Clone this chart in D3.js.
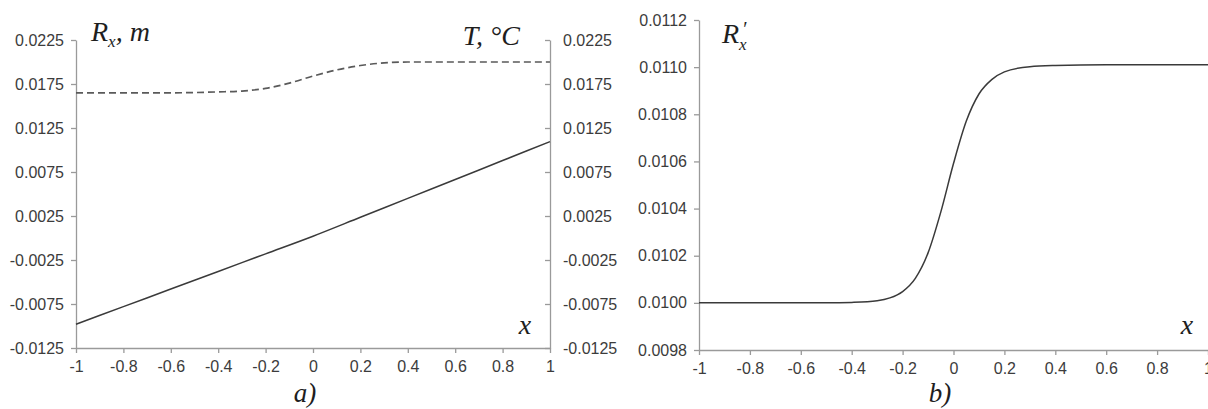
<!DOCTYPE html>
<html>
<head>
<meta charset="utf-8">
<script src="https://cdnjs.cloudflare.com/ajax/libs/d3/7.8.5/d3.min.js"></script>
<style>
  html, body { margin: 0; padding: 0; background: #fff; }
  .tick text { font-family: "Liberation Sans", Arial, sans-serif; font-size: 16px; fill: #3c3c3c; }
  .axis path, .axis line { stroke: #9a9a9a; stroke-width: 1.3; }
  .lbl { font-family: "Liberation Serif", "Times New Roman", serif; font-style: italic; fill: #1e1e1e; }
</style>
</head>
<body>
<div id="chart"></div>
<script>
  // panel a) data
  var xA = [-1, -0.8, -0.6, -0.4, -0.2, 0, 0.2, 0.4, 0.6, 0.8, 1];
  var rxA = [-0.0098, -0.0078, -0.0058, -0.0038, -0.0018, 0.0002, 0.00235, 0.0045, 0.00665, 0.0088, 0.01095];
  var xT = [-1, -0.8, -0.6, -0.4, -0.3, -0.2, -0.1, 0, 0.1, 0.2, 0.3, 0.4, 0.6, 0.8, 1];
  var tA = [0.0165, 0.0165, 0.0165, 0.0166, 0.0167, 0.0170, 0.0176, 0.0184, 0.0191, 0.0196, 0.0199, 0.0200, 0.0200, 0.0200, 0.0200];

  // panel b) data
  var xB = [-1, -0.8, -0.6, -0.5, -0.4, -0.3, -0.25, -0.2, -0.15, -0.1, -0.05, 0, 0.05, 0.1, 0.15, 0.2, 0.3, 0.4, 0.6, 0.8, 1];
  var rdB = [0.010000, 0.010000, 0.010000, 0.010000, 0.010002, 0.010009, 0.010021, 0.010048, 0.010104, 0.010212, 0.010385,
             0.010591, 0.010770, 0.010886, 0.010947, 0.010980, 0.011002, 0.011007, 0.011010, 0.011010, 0.011010];

  // tick labels
  var xTicks = [-1, -0.8, -0.6, -0.4, -0.2, 0, 0.2, 0.4, 0.6, 0.8, 1];
  var yTicksA = [-0.0125, -0.0075, -0.0025, 0.0025, 0.0075, 0.0125, 0.0175, 0.0225];
  var yTicksB = [0.0098, 0.0100, 0.0102, 0.0104, 0.0106, 0.0108, 0.0110, 0.0112];

  var W = 1208, H = 409;
  var svg = d3.select('#chart').append('svg').attr('width', W).attr('height', H);

  var fmtX = function (d) { return String(+d.toFixed(1)); };
  var fmtY = function (d) { return d.toFixed(4); };

  function drawAxes(x, y, yTicks, withRight) {
    var g = svg.append('g');
    g.append('g').attr('class', 'axis')
      .attr('transform', 'translate(0,' + y.range()[0] + ')')
      .call(d3.axisBottom(x).tickValues(xTicks).tickFormat(fmtX).tickSize(5).tickSizeOuter(0).tickPadding(8));
    g.append('g').attr('class', 'axis')
      .attr('transform', 'translate(' + x.range()[0] + ',0)')
      .call(d3.axisLeft(y).tickValues(yTicks).tickFormat(fmtY).tickSize(5).tickSizeOuter(0).tickPadding(7));
    if (withRight) {
      var ra = g.append('g').attr('class', 'axis')
        .attr('transform', 'translate(' + x.range()[1] + ',0)')
        .call(d3.axisLeft(y).tickValues(yTicks).tickFormat(fmtY).tickSize(5).tickSizeOuter(0));
      ra.selectAll('.tick text').attr('text-anchor', 'start').attr('x', 13);
    }
  }

  // panel a
  var xAs = d3.scaleLinear().domain([-1, 1]).range([76, 550]);
  var yA = d3.scaleLinear().domain([-0.0125, 0.0225]).range([348, 40]);
  drawAxes(xAs, yA, yTicksA, true);

  var lineA = d3.line().x(function (d) { return xAs(d[0]); }).y(function (d) { return yA(d[1]); }).curve(d3.curveMonotoneX);
  svg.append('path').datum(d3.zip(xA, rxA)).attr('d', lineA)
    .attr('fill', 'none').attr('stroke', '#3a3a3a').attr('stroke-width', 1.5);
  svg.append('path').datum(d3.zip(xT, tA)).attr('d', lineA)
    .attr('fill', 'none').attr('stroke', '#5a5a5a').attr('stroke-width', 1.7).attr('stroke-dasharray', '7,4');

  // panel b
  var xBs = d3.scaleLinear().domain([-1, 1]).range([699, 1208]);
  var yB = d3.scaleLinear().domain([0.0098, 0.0112]).range([350, 20]);
  drawAxes(xBs, yB, yTicksB, false);

  var lineB = d3.line().x(function (d) { return xBs(d[0]); }).y(function (d) { return yB(d[1]); }).curve(d3.curveMonotoneX);
  svg.append('path').datum(d3.zip(xB, rdB)).attr('d', lineB)
    .attr('fill', 'none').attr('stroke', '#3a3a3a').attr('stroke-width', 1.5);

  // labels
  var t1 = svg.append('text').attr('class', 'lbl').attr('x', 91).attr('y', 41).attr('font-size', 28);
  t1.append('tspan').text('R');
  t1.append('tspan').attr('font-size', 17).attr('dy', 6).text('x');
  t1.append('tspan').attr('dy', -6).text(', m');

  svg.append('text').attr('class', 'lbl').attr('x', 520).attr('y', 45).attr('font-size', 28)
    .attr('text-anchor', 'end').text('T, °C');

  svg.append('text').attr('class', 'lbl').attr('x', 722).attr('y', 43).attr('font-size', 28).text('R');
  svg.append('text').attr('class', 'lbl').attr('x', 742).attr('y', 36).attr('font-size', 20).text('′');
  svg.append('text').attr('class', 'lbl').attr('x', 739).attr('y', 50).attr('font-size', 17).text('x');

  svg.append('text').attr('class', 'lbl').attr('x', 525).attr('y', 334).attr('font-size', 28)
    .attr('text-anchor', 'middle').text('x');
  svg.append('text').attr('class', 'lbl').attr('x', 1187).attr('y', 334).attr('font-size', 28)
    .attr('text-anchor', 'middle').text('x');

  svg.append('text').attr('class', 'lbl').attr('x', 305).attr('y', 402).attr('font-size', 27)
    .attr('text-anchor', 'middle').text('a)');
  svg.append('text').attr('class', 'lbl').attr('x', 940).attr('y', 402).attr('font-size', 27)
    .attr('text-anchor', 'middle').text('b)');
</script>
</body>
</html>
